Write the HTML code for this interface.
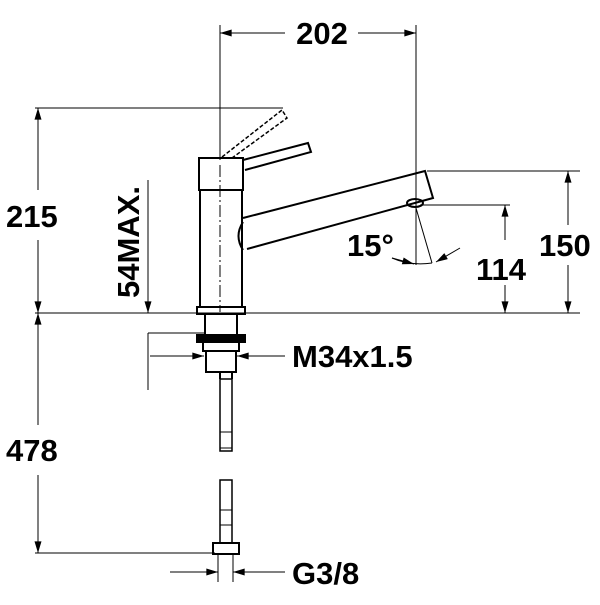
<!DOCTYPE html>
<html><head><style>
html,body{margin:0;padding:0;background:#fff}
svg text{font-family:"Liberation Sans",sans-serif;font-weight:bold;font-size:31px;fill:#000}
</style></head><body>
<svg width="600" height="600" viewBox="0 0 600 600" xmlns="http://www.w3.org/2000/svg">
<defs>
<marker id="a" viewBox="0 0 10 6" refX="10" refY="3" markerWidth="16" markerHeight="7" markerUnits="userSpaceOnUse" orient="auto"><path d="M0,0L10,3L0,6z" fill="#000"/></marker>
</defs>
<g stroke="#000" stroke-width="1" fill="none">
<line x1="220" y1="25" x2="220" y2="160"/>
<line x1="416" y1="25" x2="416" y2="265"/>
<line x1="35" y1="108" x2="283" y2="108"/>
<line x1="35" y1="313" x2="580" y2="313"/>
<line x1="427" y1="171" x2="580" y2="171"/>
<line x1="420" y1="205" x2="510" y2="205"/>
<line x1="35" y1="553" x2="215" y2="553"/>
<line x1="148" y1="333" x2="205" y2="333"/>
<line x1="148" y1="333" x2="148" y2="390"/>
<line x1="218" y1="555" x2="218" y2="582"/>
<line x1="233" y1="555" x2="233" y2="582"/>
<line x1="285" y1="33" x2="220" y2="33" marker-end="url(#a)"/>
<line x1="358" y1="33" x2="416" y2="33" marker-end="url(#a)"/>
<line x1="38" y1="190" x2="38" y2="108" marker-end="url(#a)"/>
<line x1="38" y1="240" x2="38" y2="313" marker-end="url(#a)"/>
<line x1="148" y1="180" x2="148" y2="313" marker-end="url(#a)"/>
<line x1="568" y1="225" x2="568" y2="171" marker-end="url(#a)"/>
<line x1="568" y1="265" x2="568" y2="313" marker-end="url(#a)"/>
<line x1="505" y1="240" x2="505" y2="205" marker-end="url(#a)"/>
<line x1="505" y1="285" x2="505" y2="313" marker-end="url(#a)"/>
<line x1="38" y1="425" x2="38" y2="313" marker-end="url(#a)"/>
<line x1="38" y1="475" x2="38" y2="553" marker-end="url(#a)"/>
<line x1="150" y1="356" x2="204" y2="356" marker-end="url(#a)"/>
<line x1="285" y1="356" x2="237" y2="356" marker-end="url(#a)"/>
<line x1="170" y1="572" x2="218" y2="572" marker-end="url(#a)"/>
<line x1="285" y1="572" x2="233" y2="572" marker-end="url(#a)"/>
<line x1="416" y1="208" x2="432" y2="263"/>
<path d="M392,258 Q410,266 432,263"/>
<line x1="392" y1="258" x2="414" y2="264" marker-end="url(#a)"/>
<line x1="460" y1="248" x2="436" y2="262" marker-end="url(#a)"/>
<g stroke-width="2">
<path d="M243,218 L425,171 L433,198 L247,249"/>
<path d="M243,222 Q234,236 243,250"/>
<ellipse cx="415" cy="203" rx="8" ry="4"/>
<path d="M243,160 L308,143 L311,152 L245,170"/>
<rect x="199" y="158" width="44" height="32"/>
<line x1="200" y1="190" x2="200" y2="307"/>
<line x1="242" y1="190" x2="242" y2="307"/>
<rect x="197" y="307" width="48" height="7"/>
<rect x="205" y="314" width="32" height="21"/>
<rect x="197" y="335" width="48" height="7" fill="#000"/>
<rect x="203" y="342" width="36" height="9"/>
<rect x="206" y="351" width="30" height="21"/>
<rect x="220" y="379" width="12" height="72" stroke-width="1.5"/>
<rect x="220" y="480" width="12" height="63" stroke-width="1.5"/>
<line x1="220" y1="372" x2="220" y2="379"/><line x1="232" y1="372" x2="232" y2="379"/>
<rect x="213" y="543" width="26" height="11"/>
</g>
<line x1="220" y1="432" x2="232" y2="432"/>
<line x1="220" y1="448" x2="232" y2="448"/>
<line x1="220" y1="510" x2="232" y2="510"/>
<line x1="220" y1="525" x2="232" y2="525"/>
<path d="M222,157 L282,110 L287,118 L232,158" stroke-dasharray="4,2" stroke-width="1.5"/>
<line x1="220" y1="165" x2="220" y2="312" stroke-dasharray="12,3,2,3"/>
</g>
<text x="322" y="44" text-anchor="middle">202</text>
<text x="6" y="227">215</text>
<text x="6" y="461">478</text>
<text x="539" y="256">150</text>
<text x="476" y="280">114</text>
<text x="347" y="256">15°</text>
<text x="292" y="367">M34x1.5</text>
<text x="292" y="584">G3/8</text>
<text transform="translate(139,298) rotate(-90)">54MAX.</text>
</svg>
</body></html>
